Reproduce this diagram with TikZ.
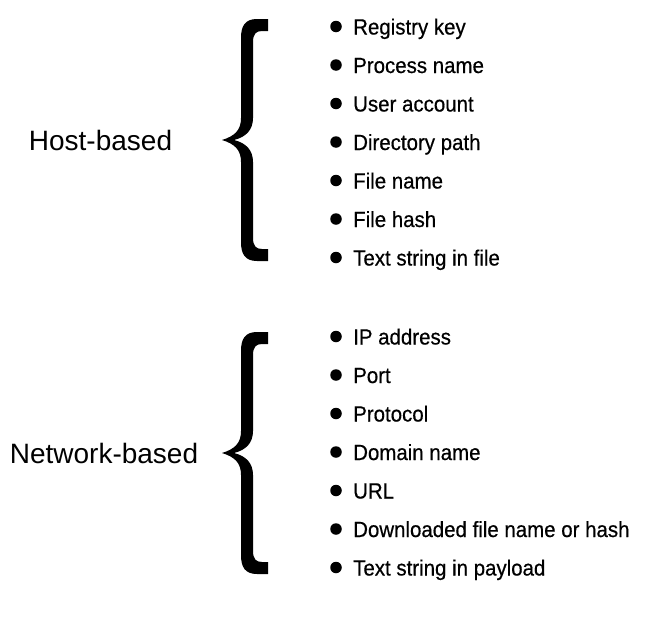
\documentclass[tikz,border=0pt]{standalone}
\usepackage{fontspec}
\setmainfont{Liberation Sans}
\newfontfamily\itemfont[FakeStretch=0.93,FakeBold=0.5]{Liberation Sans}
\begin{document}
\begin{tikzpicture}[x=1pt,y=-1pt,
  itm/.style={anchor=base west, inner sep=0pt, font=\itemfont\fontsize{22}{24}\selectfont},
  bul/.style={circle, fill=black, minimum size=11.5pt, inner sep=0pt},
  grp/.style={font=\fontsize{28}{32}\selectfont, inner sep=0pt},
  curly/.pic={
    \fill[black] (46,-121) -- (35,-121) .. controls (23,-121) and (19,-114) .. (19,-102)
      -- (19,-22) .. controls (19,-10) and (13,-4) .. (0,0)
      .. controls (13,4) and (19,10) .. (19,22)
      -- (19,102) .. controls (19,114) and (23,121) .. (35,121)
      -- (46,121) -- (46,109) -- (40,109) .. controls (34,109) and (31,106) .. (31,98)
      -- (31,22) .. controls (31,10) and (24,3) .. (12,0)
      .. controls (24,-3) and (31,-10) .. (31,-22)
      -- (31,-98) .. controls (31,-106) and (34,-109) .. (40,-109)
      -- (46,-109) -- cycle;
  }]
\useasboundingbox (0,0) rectangle (656,624);

% group labels
\node[grp] (host) at (100.5,140) {Host-based};
\node[grp] (net) at (104,453) {Network-based};

% braces
\pic (hostbrace) at (222,140) {curly};
\pic (netbrace) at (222,453) {curly};

% host-based items
\foreach \t [count=\i] in {Registry key, Process name, User account, Directory path, File name, File hash, Text string in file} {
  \node[bul] (hb\i) at (336,{26.5+38.5*(\i-1)}) {};
  \node[itm] (ht\i) at (353,{26.5+38.5*(\i-1)+8}) {\t};
}

% network-based items
\foreach \t [count=\i] in {IP address, Port, Protocol, Domain name, URL, Downloaded file name or hash, Text string in payload} {
  \node[bul] (nb\i) at (336,{336.5+38.5*(\i-1)}) {};
  \node[itm] (nt\i) at (353,{336.5+38.5*(\i-1)+8}) {\t};
}
\end{tikzpicture}
\end{document}
